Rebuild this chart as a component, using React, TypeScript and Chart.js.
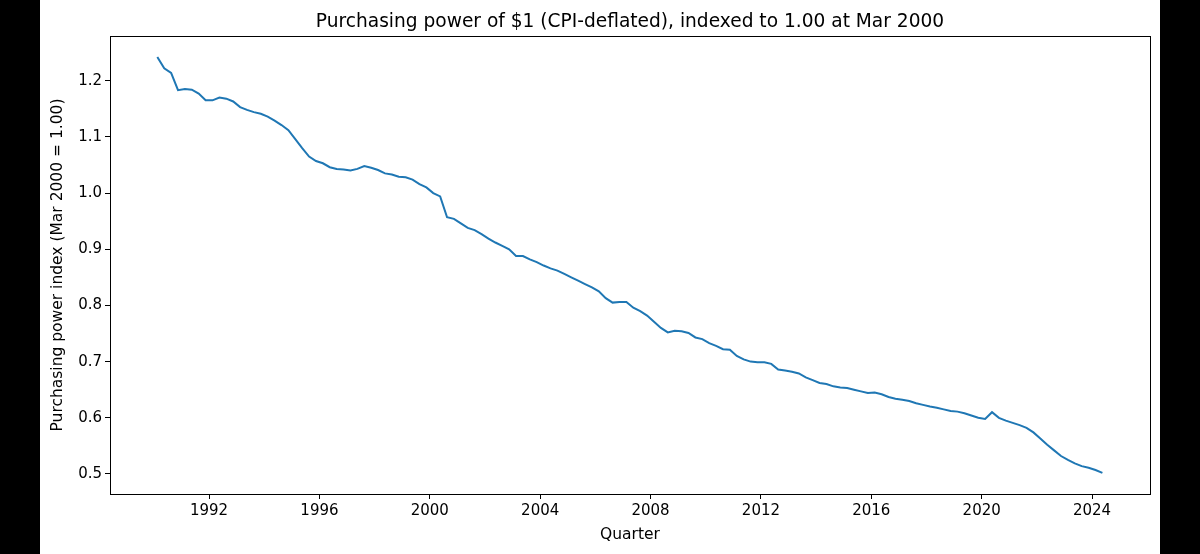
import { useEffect, useRef } from 'react';
import { Chart, registerables } from 'chart.js';
Chart.register(...registerables);

// quarterly series, 1990 Q1 .. 2024 Q2
const startYear = 1990;
const powerIndex = [
  1.242, 1.222, 1.214, 1.183, 1.185, 1.184, 1.177, 1.165, 1.165, 1.170,
  1.168, 1.163, 1.153, 1.148, 1.144, 1.141, 1.136, 1.129, 1.121, 1.112,
  1.096, 1.080, 1.065, 1.057, 1.053, 1.046, 1.043, 1.042, 1.040, 1.043,
  1.048, 1.045, 1.041, 1.035, 1.033, 1.029, 1.028, 1.024, 1.016, 1.010,
  1.000, 0.994, 0.957, 0.954, 0.946, 0.938, 0.934, 0.927, 0.919, 0.912,
  0.906, 0.900, 0.888, 0.888, 0.882, 0.877, 0.871, 0.866, 0.862, 0.856,
  0.850, 0.844, 0.838, 0.832, 0.825, 0.813, 0.805, 0.806, 0.806, 0.796,
  0.790, 0.782, 0.771, 0.760, 0.752, 0.755, 0.754, 0.751, 0.743, 0.740,
  0.733, 0.728, 0.722, 0.721, 0.710, 0.704, 0.700, 0.699, 0.699, 0.696,
  0.686, 0.684, 0.682, 0.679, 0.672, 0.667, 0.662, 0.660, 0.656, 0.654,
  0.653, 0.650, 0.647, 0.644, 0.645, 0.642, 0.637, 0.634, 0.632, 0.630,
  0.626, 0.623, 0.620, 0.618, 0.615, 0.612, 0.611, 0.608, 0.604, 0.600,
  0.598, 0.610, 0.600, 0.595, 0.591, 0.587, 0.582, 0.574, 0.563, 0.552,
  0.542, 0.532, 0.525, 0.519, 0.514, 0.511, 0.507, 0.502,
];
const quarters = powerIndex.map((_, i) => ({ year: startYear + Math.floor(i / 4), q: (i % 4) + 1 }));

const xTicks = [1992, 1996, 2000, 2004, 2008, 2012, 2016, 2020, 2024];
const yTicks = [0.5, 0.6, 0.7, 0.8, 0.9, 1.0, 1.1, 1.2];

const TITLE = 'Purchasing power of $1 (CPI-deflated), indexed to 1.00 at Mar 2000';
const FONT = 'DejaVu Sans';

// box around the axes + title centred over the axes, like matplotlib
const frame = {
  id: 'frame',
  afterDraw(chart: Chart) {
    const { ctx, chartArea: a } = chart;
    ctx.save();
    ctx.strokeStyle = '#000';
    ctx.lineWidth = 1;
    ctx.strokeRect(Math.round(a.left) + 0.5, Math.round(a.top) + 0.5, Math.round(a.right - a.left), Math.round(a.bottom - a.top));
    ctx.fillStyle = '#000';
    ctx.font = `18.6px "${FONT}"`;
    ctx.textAlign = 'center';
    ctx.textBaseline = 'alphabetic';
    ctx.fillText(TITLE, (a.left + a.right) / 2, 27);
    ctx.restore();
  },
};

export default function App() {
  const ref = useRef<HTMLCanvasElement>(null);

  useEffect(() => {
    const chart = new Chart(ref.current!, {
      type: 'line',
      data: {
        datasets: [{
          data: quarters.map((d, i) => ({ x: d.year + (d.q - 1) / 4 + 0.125, y: powerIndex[i] })),
          borderColor: '#1f77b4',
          borderWidth: 2,
          pointRadius: 0,
          tension: 0,
        }],
      },
      options: {
        animation: false,
        responsive: true,
        maintainAspectRatio: false,
        layout: { padding: { left: 0, right: 10, top: 36, bottom: 0 } },
        plugins: {
          legend: { display: false },
          tooltip: { enabled: false },
          title: { display: false },
        },
        scales: {
          x: {
            type: 'linear',
            min: 1988.41,
            max: 2026.1,
            afterBuildTicks: (s: any) => { s.ticks = xTicks.map(v => ({ value: v })); },
            afterFit: (s: any) => { s.height = 60; },
            ticks: { color: '#000', font: { family: FONT, size: 15 }, padding: 3, maxRotation: 0, callback: (v: any) => String(v) },
            grid: { drawOnChartArea: false, drawTicks: true, tickLength: 5, color: '#000' },
            border: { display: false },
            title: { display: true, text: 'Quarter', color: '#000', font: { family: FONT, size: 15.5 }, padding: { top: 0, bottom: 10 } },
          },
          y: {
            min: 0.4644,
            max: 1.2795,
            afterBuildTicks: (s: any) => { s.ticks = yTicks.map(v => ({ value: v })); },
            afterFit: (s: any) => { s.width = 70; },
            ticks: { color: '#000', font: { family: FONT, size: 15 }, padding: 3, callback: (v: any) => Number(v).toFixed(1) },
            grid: { drawOnChartArea: false, drawTicks: true, tickLength: 5, color: '#000' },
            border: { display: false },
            title: { display: true, text: 'Purchasing power index (Mar 2000 = 1.00)', color: '#000', font: { family: FONT, size: 15.5 }, padding: { top: 9, bottom: 0 } },
          },
        },
      },
      plugins: [frame],
    });
    return () => chart.destroy();
  }, []);

  return (
    <div style={{ position: 'fixed', inset: 0, background: '#000' }}>
      <div style={{ position: 'absolute', left: 40, top: 0, width: 1120, height: 554, background: '#fff' }}>
        <canvas ref={ref} />
      </div>
    </div>
  );
}
